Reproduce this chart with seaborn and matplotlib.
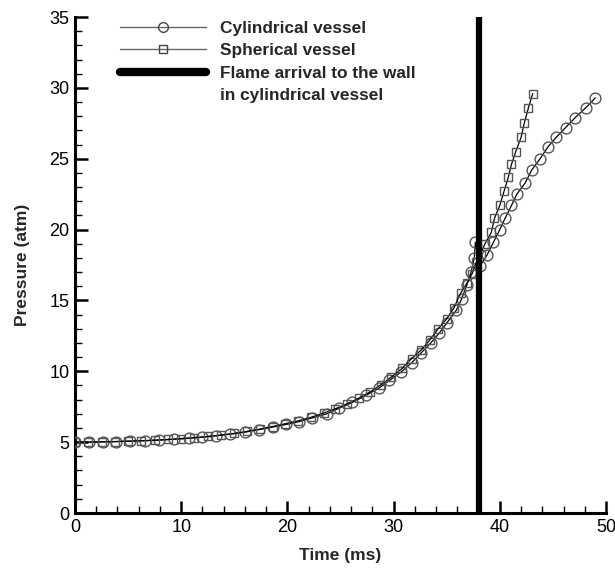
import numpy as np
import pandas as pd
import matplotlib
matplotlib.use("Agg")
import matplotlib.pyplot as plt
from matplotlib.lines import Line2D
from matplotlib.ticker import MultipleLocator
import seaborn as sns

# Cylindrical vessel data (time ms, pressure atm)
cyl_t = [0, 1.3, 2.6, 3.9, 5.2, 6.6, 7.9, 9.3, 10.7, 12.0, 13.3, 14.6, 16.0, 17.3,
         18.6, 19.9, 21.1, 22.3, 23.7, 24.9, 26.1, 27.4, 28.6, 29.6, 30.7, 31.7,
         32.6, 33.5, 34.3, 35.0, 35.9, 36.4, 36.9, 37.3, 37.6, 37.7, 38.1, 38.8,
         39.4, 40.0, 40.5, 41.1, 41.6, 42.4, 43.0, 43.8, 44.5, 45.3, 46.2, 47.1,
         48.1, 49.0]
cyl_p = [5.0, 5.0, 5.02, 5.04, 5.07, 5.1, 5.14, 5.2, 5.27, 5.35, 5.45, 5.56, 5.7, 5.88,
         6.06, 6.25, 6.45, 6.7, 7.0, 7.4, 7.8, 8.3, 8.8, 9.35, 9.95, 10.6,
         11.3, 12.0, 12.7, 13.4, 14.3, 15.1, 16.1, 17.0, 18.0, 19.1, 17.4, 18.2,
         19.1, 20.0, 20.8, 21.7, 22.5, 23.3, 24.2, 25.0, 25.8, 26.5, 27.2, 27.9,
         28.6, 29.3]

# Spherical vessel data
sph_t = [0, 1.25, 2.5, 3.75, 5.0, 6.25, 7.5, 8.75, 10.0, 11.25, 12.5, 13.75, 15.0,
         16.2, 17.4, 18.6, 19.8, 21.0, 22.2, 23.4, 24.5, 25.6, 26.7, 27.8, 28.8,
         29.8, 30.8, 31.7, 32.6, 33.4, 34.2, 35.0, 35.7, 36.3, 36.9, 37.4, 37.8,
         38.2, 38.6, 39.2, 39.5, 40.0, 40.4, 40.8, 41.1, 41.5, 42.0, 42.3, 42.7, 43.1]
sph_p = [5.0, 5.0, 5.02, 5.04, 5.07, 5.1, 5.14, 5.19, 5.25, 5.32, 5.4, 5.5, 5.62,
         5.76, 5.92, 6.1, 6.3, 6.5, 6.75, 7.05, 7.35, 7.7, 8.1, 8.55, 9.05,
         9.6, 10.2, 10.9, 11.5, 12.2, 13.0, 13.7, 14.5, 15.5, 16.2, 16.9, 17.7,
         18.3, 19.0, 19.8, 20.8, 21.7, 22.7, 23.7, 24.6, 25.5, 26.5, 27.5, 28.6, 29.6]

flame_t = 38.0

labels = ["Cylindrical vessel", "Spherical vessel",
          "Flame arrival to the wall", "in cylindrical vessel"]

sns.set_theme(style="ticks")
plt.rcParams['font.family'] = ['Liberation Sans', 'DejaVu Sans']

fig = plt.figure(figsize=(6.15, 5.74), dpi=100)
ax = fig.add_axes([75/615, 61/574, 531/615, 496/574])

cyl = pd.DataFrame({"t": cyl_t, "p": cyl_p})
sph = pd.DataFrame({"t": sph_t, "p": sph_p})

mk_edge = "#555555"
sns.lineplot(data=cyl, x="t", y="p", sort=False, ax=ax, color="black", lw=0.9,
             marker="o", markersize=7.8, markerfacecolor="none",
             markeredgecolor=mk_edge, markeredgewidth=1.0, zorder=3)
sns.lineplot(data=sph, x="t", y="p", sort=False, ax=ax, color="black", lw=0.9,
             marker="s", markersize=5.6, markerfacecolor="none",
             markeredgecolor=mk_edge, markeredgewidth=1.0, zorder=3)
ax.axvline(flame_t, color="black", lw=4.5, zorder=4)

ax.set_xlim(0, 50)
ax.set_ylim(0, 35)
ax.xaxis.set_major_locator(MultipleLocator(10))
ax.xaxis.set_minor_locator(MultipleLocator(2))
ax.yaxis.set_major_locator(MultipleLocator(5))
ax.yaxis.set_minor_locator(MultipleLocator(1))

for s in ["top", "right"]:
    ax.spines[s].set_visible(False)
for s in ["left", "bottom"]:
    ax.spines[s].set_linewidth(2.2)
    ax.spines[s].set_color("black")

ax.tick_params(which="major", direction="in", length=9, width=1.8, colors="black",
               labelsize=13, pad=4)
ax.tick_params(which="minor", direction="in", length=5, width=1.0, colors="black")
ax.set_xlabel("Time (ms)", fontsize=12.5, fontweight="bold", labelpad=9)
ax.set_ylabel("Pressure (atm)", fontsize=12.5, fontweight="bold", labelpad=14)

handles = [
    Line2D([], [], color="#666666", lw=1.0, marker="o", markersize=7,
           markerfacecolor="none", markeredgecolor="#444444"),
    Line2D([], [], color="#666666", lw=1.0, marker="s", markersize=5.2,
           markerfacecolor="none", markeredgecolor="#444444"),
    Line2D([], [], color="black", lw=6, solid_capstyle="round"),
    Line2D([], [], color="none", lw=0),
]
leg = ax.legend(handles, labels, loc="upper left", bbox_to_anchor=(0.071, 1.006),
                frameon=False, handlelength=5.0, handletextpad=0.85,
                labelspacing=0.42, prop={"weight": "bold", "size": 12.4},
                borderaxespad=0.0)
fig.savefig("out.png", dpi=100)
